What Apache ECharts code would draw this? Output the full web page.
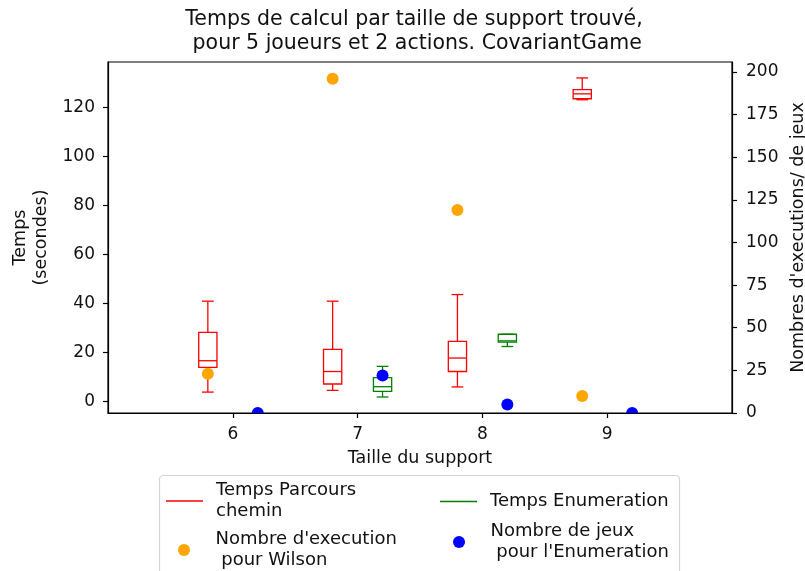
<!DOCTYPE html>
<html>
<head>
<meta charset="utf-8">
<script src="https://cdn.jsdelivr.net/npm/echarts@6/dist/echarts.min.js"></script>
<style>html,body{margin:0;padding:0;background:#fff}#chart{width:805px;height:571px}</style>
</head>
<body>
<div id="chart"></div>
<script>
// ---- data ----
const titleText = "Temps de calcul par taille de support trouvé,\n pour 5 joueurs et 2 actions. CovariantGame";
const xTicks = [6, 7, 8, 9];
const leftTicks = [0, 20, 40, 60, 80, 100, 120];
const rightTicks = [0, 25, 50, 75, 100, 125, 150, 175, 200];

// Temps Parcours chemin (red boxes), positions = support size - 0.2
const parcoursPos  = [5.8, 6.8, 7.8, 8.8];
const parcoursLow  = [3.8, 4.5, 5.9, 123.1];
const parcoursQ1   = [13.9, 7.1, 12.2, 123.5];
const parcoursMed  = [16.6, 12.2, 17.7, 125.5];
const parcoursQ3   = [28.2, 21.2, 24.5, 127.2];
const parcoursHigh = [40.9, 40.9, 43.6, 132.0];

// Temps Enumeration (green boxes), positions = support size + 0.2
const enumPos  = [7.2, 8.2];
const enumLow  = [1.8, 22.4];
const enumQ1   = [4.1, 24.2];
const enumMed  = [6.0, 24.7];
const enumQ3   = [9.7, 27.4];
const enumHigh = [14.3, 27.4];

// Nombre d'execution pour Wilson (orange dots, right axis)
const wilsonPos   = [5.8, 6.8, 7.8, 8.8];
const wilsonCount = [23, 196, 119, 10];

// Nombre de jeux pour l'Enumeration (blue dots, right axis)
const jeuxPos   = [6.2, 7.2, 8.2, 9.2];
const jeuxCount = [0, 22, 5, 0];

const NAME_PARCOURS = "Temps Parcours\nchemin";
const NAME_ENUM = "Temps Enumeration";
const NAME_WILSON = "Nombre d'execution\n pour Wilson";
const NAME_JEUX = "Nombre de jeux\n pour l'Enumeration";

// ---- chart ----
const FONT = "DejaVu Sans";
const BOX_HALF = 0.073, CAP_HALF = 0.047, DOT_R = 6;

function boxRenderer(color) {
  return function (params, api) {
    const x = api.value(0);
    const pLo = api.coord([x, api.value(1)]);
    const pQ1 = api.coord([x, api.value(2)]);
    const pMed = api.coord([x, api.value(3)]);
    const pQ3 = api.coord([x, api.value(4)]);
    const pHi = api.coord([x, api.value(5)]);
    const hw = api.size([BOX_HALF, 0])[0];
    const cw = api.size([CAP_HALF, 0])[0];
    const cx = pQ1[0];
    const st = { stroke: color, fill: 'none', lineWidth: 1.3 };
    return {
      type: 'group',
      children: [
        { type: 'rect', shape: { x: cx - hw, y: pQ3[1], width: 2 * hw, height: pQ1[1] - pQ3[1] }, style: st },
        { type: 'line', shape: { x1: cx - hw, y1: pMed[1], x2: cx + hw, y2: pMed[1] }, style: st },
        { type: 'line', shape: { x1: cx, y1: pQ3[1], x2: cx, y2: pHi[1] }, style: st },
        { type: 'line', shape: { x1: cx, y1: pQ1[1], x2: cx, y2: pLo[1] }, style: st },
        { type: 'line', shape: { x1: cx - cw, y1: pHi[1], x2: cx + cw, y2: pHi[1] }, style: st },
        { type: 'line', shape: { x1: cx - cw, y1: pLo[1], x2: cx + cw, y2: pLo[1] }, style: st }
      ]
    };
  };
}

function dotRenderer(color) {
  return function (params, api) {
    const p = api.coord([api.value(0), api.value(1)]);
    return { type: 'circle', shape: { cx: p[0], cy: p[1], r: DOT_R }, style: { fill: color } };
  };
}

const parcoursData = parcoursPos.map((p, i) => [p, parcoursLow[i], parcoursQ1[i], parcoursMed[i], parcoursQ3[i], parcoursHigh[i]]);
const enumData = enumPos.map((p, i) => [p, enumLow[i], enumQ1[i], enumMed[i], enumQ3[i], enumHigh[i]]);
const wilsonData = wilsonPos.map((p, i) => [p, wilsonCount[i]]);
const jeuxData = jeuxPos.map((p, i) => [p, jeuxCount[i]]);

const axisLineStyle = { color: '#000', width: 1.2 };
const tickFont = { fontSize: 17, color: '#111', fontFamily: FONT };
const legendText = { fontSize: 18, color: '#111', fontFamily: FONT, lineHeight: 21, padding: [0, 0, 0, 8] };

function legendItem(name, icon, color, left, top, h) {
  return {
    show: true, left: left, top: top, padding: 0, orient: 'vertical',
    itemWidth: 37, itemHeight: h, selectedMode: false,
    data: [{ name: name, icon: icon, itemStyle: { color: color, borderWidth: 0 } }],
    textStyle: legendText
  };
}

const option = {
  animation: false,
  backgroundColor: '#fff',
  textStyle: { fontFamily: FONT },
  title: {
    text: titleText, left: 414, top: 8, textAlign: 'center', padding: 0,
    textStyle: { fontSize: 20.5, fontWeight: 'normal', color: '#111', lineHeight: 24, fontFamily: FONT }
  },
  graphic: [{
    type: 'rect', z: 1, silent: true,
    shape: { x: 159.5, y: 475.5, width: 520, height: 120, r: 4 },
    style: { fill: 'rgba(255,255,255,0.8)', stroke: '#d4d4d4', lineWidth: 1.2 }
  }],
  legend: [
    legendItem(NAME_PARCOURS, 'rect', '#ff0000', 166, 480, 1.6),
    legendItem(NAME_WILSON, 'circle', '#ffa500', 178, 529, 12),
    legendItem(NAME_ENUM, 'rect', '#008000', 440, 491, 1.6),
    legendItem(NAME_JEUX, 'circle', '#0000ff', 453, 521, 12)
  ],
  grid: { left: 108, right: 73, top: 62, bottom: 158, show: true, borderColor: '#000', borderWidth: 1.2,
          containLabel: false, outerBoundsMode: 'none' },
  xAxis: {
    type: 'value', min: 5, max: 10,
    name: 'Taille du support', nameLocation: 'middle', nameGap: 36,
    nameTextStyle: { fontSize: 17.5, color: '#111', fontFamily: FONT },
    axisLine: { show: true, onZero: false, lineStyle: axisLineStyle },
    axisTick: { show: true, customValues: xTicks, length: 5, lineStyle: axisLineStyle },
    axisLabel: Object.assign({ customValues: xTicks, margin: 13 }, tickFont),
    splitLine: { show: false }
  },
  yAxis: [{
    type: 'value', min: -4.73, max: 138.5, position: 'left',
    name: 'Temps\n(secondes)', nameLocation: 'middle', nameGap: 56, nameRotate: 90,
    nameTextStyle: { fontSize: 17.5, color: '#111', fontFamily: FONT, lineHeight: 21, align: 'center' },
    axisLine: { show: true, onZero: false, lineStyle: axisLineStyle },
    axisTick: { show: true, customValues: leftTicks, length: 5, lineStyle: axisLineStyle },
    axisLabel: Object.assign({ customValues: leftTicks, margin: 13 }, tickFont),
    splitLine: { show: false }
  }, {
    type: 'value', min: 0, max: 205.8, position: 'right',
    name: "Nombres d'executions/ de jeux", nameLocation: 'middle', nameGap: 51, nameRotate: 90,
    nameTextStyle: { fontSize: 17.5, color: '#111', fontFamily: FONT },
    axisLine: { show: true, onZero: false, lineStyle: axisLineStyle },
    axisTick: { show: true, customValues: rightTicks, length: 5, lineStyle: axisLineStyle },
    axisLabel: Object.assign({ customValues: rightTicks, margin: 14 }, tickFont),
    splitLine: { show: false }
  }],
  series: [
    { type: 'custom', name: NAME_PARCOURS, xAxisIndex: 0, yAxisIndex: 0, data: parcoursData,
      encode: { x: 0, y: [1, 2, 3, 4, 5] }, itemStyle: { color: '#ff0000' }, renderItem: boxRenderer('#ff0000'), z: 2 },
    { type: 'custom', name: NAME_ENUM, xAxisIndex: 0, yAxisIndex: 0, data: enumData,
      encode: { x: 0, y: [1, 2, 3, 4, 5] }, itemStyle: { color: '#008000' }, renderItem: boxRenderer('#008000'), z: 2 },
    { type: 'custom', name: NAME_WILSON, xAxisIndex: 0, yAxisIndex: 1, data: wilsonData,
      encode: { x: 0, y: 1 }, itemStyle: { color: '#ffa500' }, renderItem: dotRenderer('#ffa500'), clip: true, z: 5 },
    { type: 'custom', name: NAME_JEUX, xAxisIndex: 0, yAxisIndex: 1, data: jeuxData,
      encode: { x: 0, y: 1 }, itemStyle: { color: '#0000ff' }, renderItem: dotRenderer('#0000ff'), clip: true, z: 5 }
  ]
};

const chart = echarts.init(document.getElementById('chart'), null, { renderer: 'canvas' });
chart.setOption(option);
</script>
</body>
</html>
